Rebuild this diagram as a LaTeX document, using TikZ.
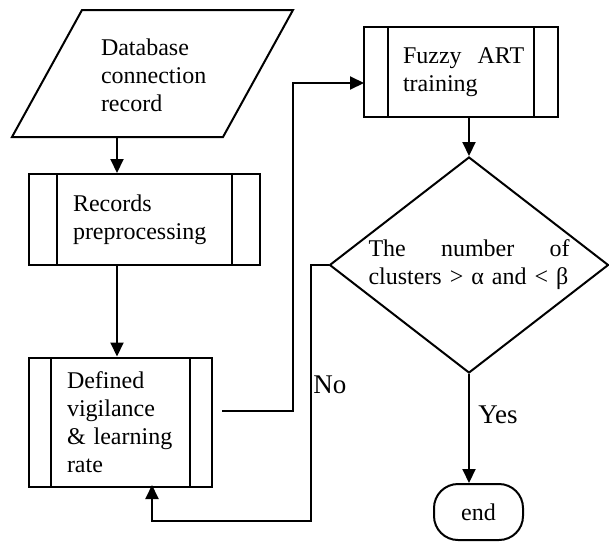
\documentclass[tikz,border=0pt]{standalone}
\usepackage{fontspec}
\setmainfont{Liberation Serif}
\usetikzlibrary{shapes.geometric,arrows.meta}
\tikzset{
  subproc/.style={draw, line width=1pt, inner sep=0pt,
    path picture={
      \draw[line width=1pt] ([xshift=#1]path picture bounding box.north west) -- ([xshift=#1]path picture bounding box.south west)
        ([xshift=-#1]path picture bounding box.north east) -- ([xshift=-#1]path picture bounding box.south east);}},
  arr/.style={line width=1pt, -{Triangle[length=7pt,width=6.5pt]}},
  txt/.style={align=left, inner sep=0pt},
  lbl/.style={inner sep=0pt, anchor=west, font=\fontsize{13.5}{16}\selectfont}
}
\begin{document}
\begin{tikzpicture}[x=0.5pt, y=-0.5pt, font=\fontsize{12}{14}\selectfont]
\useasboundingbox (0,0) rectangle (609,541);
% input
\draw[line width=1pt] (82,10) -- (293,10) -- (223,137) -- (12,137) -- cycle;
\node[txt, text width=54pt] (db) at (155,75) {Database\\connection\\record};
\coordinate (dbout) at (117,137);
% boxes
\node[subproc=14pt, minimum width=115.5pt, minimum height=45.5pt, text width=71.5pt, align=left]
   (rec) at (144.5,219.5) {Records\\preprocessing};
\node[subproc=11pt, minimum width=91.5pt, minimum height=64.5pt, text width=53.5pt, align=left]
   (def) at (120.5,422) {Defined\\vigilance\\\&~learning\\rate};
\node[subproc=12pt, minimum width=97pt, minimum height=45pt, text width=58pt, align=left]
   (fuz) at (461,72) {Fuzzy~~ART\\training};
\node[draw, line width=1pt, shape=diamond, shape aspect=1.29, inner sep=0pt,
   minimum width=139.5pt, minimum height=108pt, text width=100.5pt, align=left]
   (dec) at (469,265) {\hbox to 100.5pt{The\hfill number\hfill of}\\clusters > α and < β};
\node[draw, line width=1pt, rounded corners=12pt, minimum width=44.5pt, minimum height=28pt]
   (stop) at (478.5,512) {end};
% arrows
\draw[arr] (dbout) -- (dbout |- rec.north);
\draw[arr] (dbout |- rec.south) -- (dbout |- def.north);
\coordinate (defout) at (222,411);
\coordinate (up) at (293,411);
\coordinate (fuzin) at (364,83);
\draw[arr] (defout) -- (up) |- (fuzin);
\draw[arr] (dec.north |- fuz.south) -- (dec.north);
\coordinate (back) at (311,521);
\coordinate (defin) at (152,485);
\draw[arr] (dec.west) -| (back) -| (defin);
\draw[arr] (dec.south) -- (dec.south |- stop.north);
\node[lbl] (no) at (313,385) {No};
\node[lbl] (yes) at (478,415) {Yes};
\end{tikzpicture}
\end{document}
